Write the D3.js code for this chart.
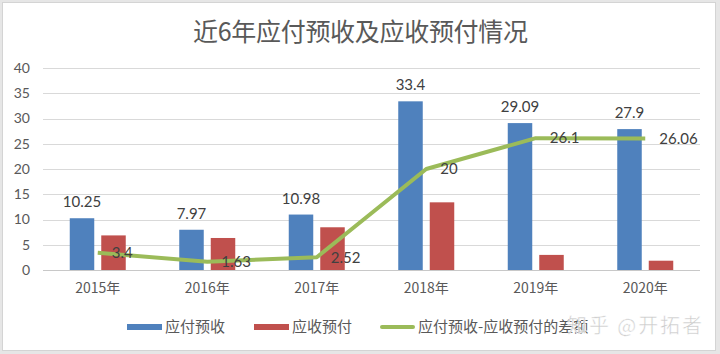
<!DOCTYPE html>
<html>
<head>
<meta charset="utf-8">
<script src="https://cdn.jsdelivr.net/npm/d3@7"></script>
<style>
  html, body { margin: 0; padding: 0; background: #e6e6e6; }
  svg { display: block; }
</style>
</head>
<body>
<div id="chart"></div>
<script>
// 数据
const years = ['2015年', '2016年', '2017年', '2018年', '2019年', '2020年']
const yingfu = [10.25, 7.97, 10.98, 33.4, 29.09, 27.9]     // 应付预收
const yingshou = [6.85, 6.34, 8.46, 13.4, 2.99, 1.84]      // 应收预付
const chae = [3.4, 1.63, 2.52, 20, 26.1, 26.06]            // 差额
const yTicks = [0, 5, 10, 15, 20, 25, 30, 35, 40]

const width = 720
const height = 354
const cjk = '"Noto Sans CJK SC", sans-serif'
const num = 'Lato, "Noto Sans", sans-serif'

const svg = d3.select('#chart').append('svg')
    .attr('width', width)
    .attr('height', height)

// 外框
svg.append('rect')
    .attr('x', 2.5).attr('y', 2.5)
    .attr('width', 713).attr('height', 348)
    .attr('fill', '#fff')
    .attr('stroke', '#d4d4d4')

// 标题
svg.append('text')
    .attr('x', 193).attr('y', 41)
    .attr('font-family', cjk)
    .attr('font-size', 25)
    .attr('textLength', 335)
    .attr('lengthAdjust', 'spacing')
    .attr('fill', '#595959')
    .text('近6年应付预收及应收预付情况')

// 比例尺
const x = d3.scaleBand().domain(years).range([43, 700]).padding(0)
const y = d3.scaleLinear().domain([0, 40]).range([270, 68])
const cx = d => x(d) + x.bandwidth() / 2

// 网格线
svg.append('g').selectAll('line')
    .data(yTicks)
    .join('line')
    .attr('x1', 43).attr('x2', 700)
    .attr('y1', d => Math.round(y(d)) + 0.5)
    .attr('y2', d => Math.round(y(d)) + 0.5)
    .attr('stroke', d => d === 0 ? '#c8c8c8' : '#d9d9d9')
    .attr('stroke-width', 1.2)

// y轴标签
const yAxis = svg.append('g')
    .attr('transform', 'translate(30,0)')
    .call(d3.axisLeft(y).tickValues(yTicks).tickSize(0).tickPadding(0))
yAxis.select('.domain').remove()
yAxis.selectAll('text')
    .attr('font-family', num)
    .attr('font-size', 14)
    .attr('fill', '#595959')

// x轴标签
const xAxis = svg.append('g')
    .attr('transform', 'translate(0,280)')
    .call(d3.axisBottom(x).tickSize(0).tickPadding(0))
xAxis.select('.domain').remove()
xAxis.selectAll('text')
    .attr('font-family', cjk)
    .attr('font-size', 14)
    .attr('fill', '#595959')
    .attr('dy', '0.95em')

const barW = 24.5

// 应付预收 柱
svg.append('g').selectAll('rect')
    .data(yingfu)
    .join('rect')
    .attr('x', (d, i) => cx(years[i]) - 28)
    .attr('y', d => y(d))
    .attr('width', barW)
    .attr('height', d => y(0) - y(d))
    .attr('fill', '#4f81bd')

// 应收预付 柱
svg.append('g').selectAll('rect')
    .data(yingshou)
    .join('rect')
    .attr('x', (d, i) => cx(years[i]) + 3.5)
    .attr('y', d => y(d))
    .attr('width', barW)
    .attr('height', d => y(0) - y(d))
    .attr('fill', '#c0504d')

// 应付预收 数值
svg.append('g').selectAll('text')
    .data(yingfu)
    .join('text')
    .attr('x', (d, i) => cx(years[i]) - 28 + barW / 2)
    .attr('y', d => y(d) - 11)
    .attr('text-anchor', 'middle')
    .attr('font-family', num)
    .attr('font-size', 15)
    .attr('fill', '#404040')
    .text(d => d)

// 差额 折线
const line = d3.line()
    .x((d, i) => cx(years[i]))
    .y(d => y(d))

svg.append('path')
    .datum(chae)
    .attr('d', line)
    .attr('fill', 'none')
    .attr('stroke', '#9bbb59')
    .attr('stroke-width', 4)
    .attr('stroke-linejoin', 'round')

svg.append('g').selectAll('text')
    .data(chae)
    .join('text')
    .attr('x', (d, i) => cx(years[i]) + 14)
    .attr('y', d => y(d))
    .attr('dy', '0.35em')
    .attr('font-family', num)
    .attr('font-size', 15)
    .attr('fill', '#404040')
    .text(d => d)

// 图例
const legend = [
    { name: '应付预收', color: '#4f81bd', x: 127, h: 6 },
    { name: '应收预付', color: '#c0504d', x: 254, h: 6 },
    { name: '应付预收-应收预付的差额', color: '#9bbb59', x: 380, h: 4 }
]
const lg = svg.append('g').selectAll('g')
    .data(legend)
    .join('g')
    .attr('transform', d => `translate(${d.x},327)`)
lg.append('rect')
    .attr('x', 0)
    .attr('y', d => -d.h / 2)
    .attr('width', 35)
    .attr('height', d => d.h)
    .attr('rx', d => d.h === 4 ? 2 : 0)
    .attr('fill', d => d.color)
lg.append('text')
    .attr('x', 38)
    .attr('dy', '0.36em')
    .attr('font-family', cjk)
    .attr('font-size', 15)
    .attr('fill', '#595959')
    .text(d => d.name)

// 水印
svg.append('text')
    .attr('x', 567).attr('y', 333)
    .attr('font-family', cjk)
    .attr('font-size', 20)
    .attr('textLength', 135)
    .attr('lengthAdjust', 'spacing')
    .attr('fill', '#c4c4c4')
    .attr('fill-opacity', 0.9)
    .attr('stroke', '#ffffff')
    .attr('stroke-width', 0.5)
    .text('知乎 @开拓者')
</script>
</body>
</html>
